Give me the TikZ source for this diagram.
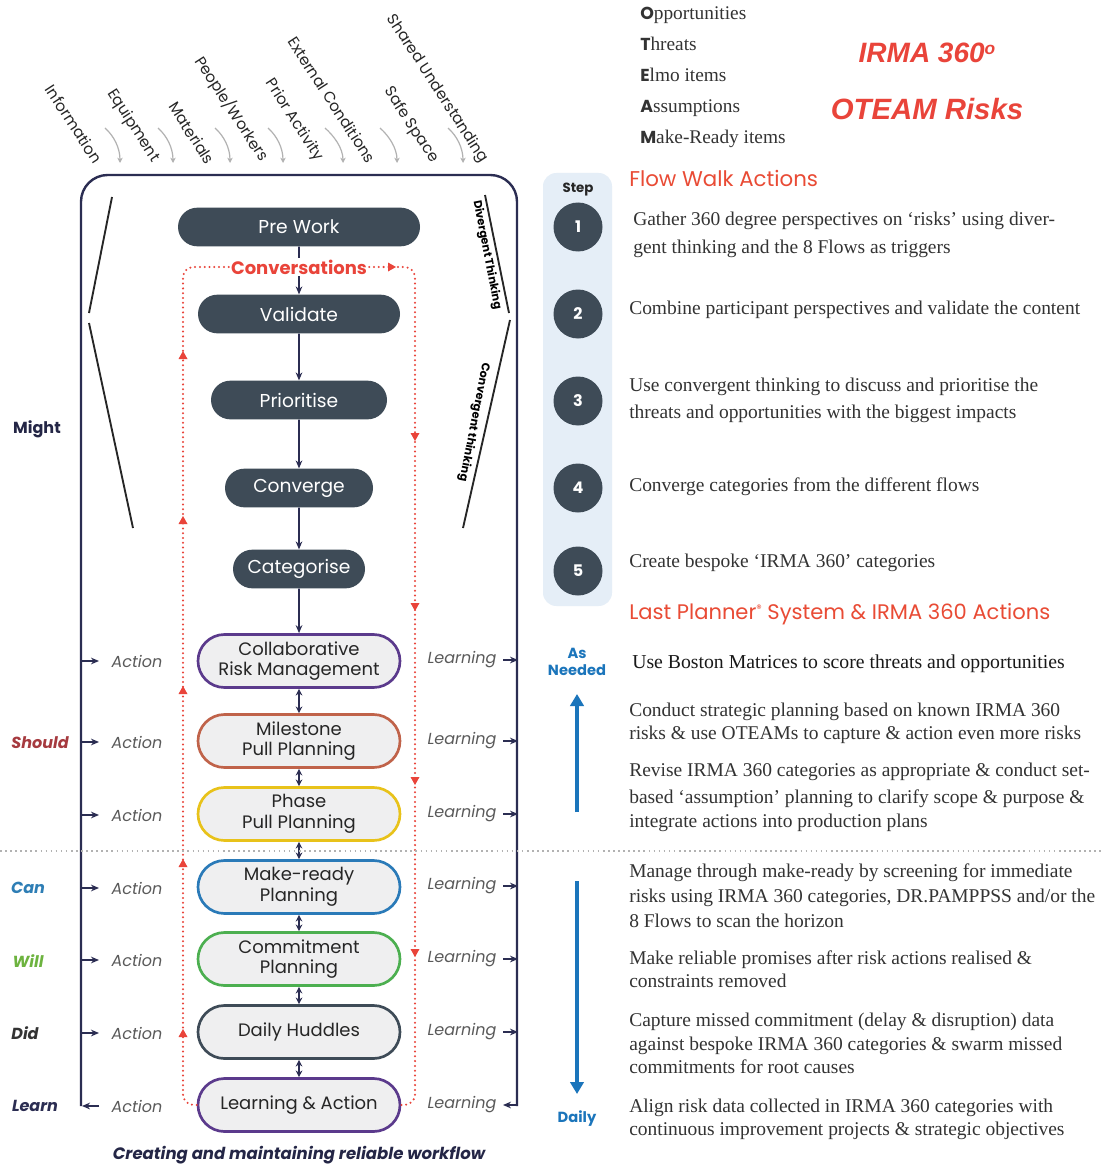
\documentclass[tikz,border=0pt]{standalone}
\usepackage{fontspec}
\setmainfont{Poppins}
\newfontfamily\serif{Liberation Serif}
\newfontfamily\arialf{Liberation Sans}
\usetikzlibrary{shapes.misc,arrows.meta}
\definecolor{navy}{HTML}{2B2D52}
\definecolor{slate}{HTML}{3E4B57}
\definecolor{redc}{HTML}{E9443A}
\definecolor{grayt}{HTML}{5A5A5A}
\definecolor{lightfill}{HTML}{EFEFF0}
\definecolor{purp}{HTML}{5B3A8C}
\definecolor{terra}{HTML}{C0634A}
\definecolor{yel}{HTML}{E8C21A}
\definecolor{bluec}{HTML}{2A7AB8}
\definecolor{greenc}{HTML}{4CAF50}
\definecolor{stepbg}{HTML}{E5EEF7}
\definecolor{arrowblue}{HTML}{1B75BB}
\definecolor{shouldc}{HTML}{A63A3F}
\definecolor{canc}{HTML}{2E7EB5}
\definecolor{willc}{HTML}{6DB33F}
\definecolor{headred}{HTML}{E94B35}
\newcommand{\fsz}[2]{\fontsize{#1}{#2}\selectfont}
\newcommand{\uptri}[2]{\fill[redc] (#1-4.5,#2+4) -- (#1+4.5,#2+4) -- (#1,#2-4) -- cycle;}
\newcommand{\dntri}[2]{\fill[redc] (#1-4.5,#2-4) -- (#1+4.5,#2-4) -- (#1,#2+4) -- cycle;}
\newcommand{\rt}[3]{\node[rtext] at (#1,#2+5) {#3};}
\tikzset{
  darknode/.style={rounded rectangle, fill=slate, text=white, font=\fsz{14}{16}, minimum height=29pt, inner sep=0pt},
  lightnode/.style={rounded rectangle, fill=lightfill, draw=#1, line width=2pt, minimum width=151.5pt, minimum height=39.75pt, inner sep=0pt, align=center, font=\fsz{13.5}{15.5}, text=black!85},
  flowlab/.style={rotate=-57, font=\fsz{11.5}{13}, text=black!85},
  act/.style={font=\itshape\fsz{12}{14}, text=grayt},
  conn/.style={navy, line width=1.3pt, -{Stealth[length=6pt,width=5pt]}},
  dconn/.style={navy, line width=1.3pt, {Stealth[length=5pt,width=5pt]}-{Stealth[length=5pt,width=5pt]}},
  frame/.style={navy, line width=1.8pt},
  diag/.style={black!85, line width=1.4pt},
  redot/.style={redc, line width=1.7pt, dash pattern=on 0pt off 3.6pt, line cap=round},
  grayarr/.style={gray!60, line width=0.9pt, -{Stealth[length=4pt,width=4pt]}},
  rtext/.style={anchor=base west, font=\serif\fsz{14.6}{16}, text=black!80, inner sep=0pt},
  sidelab/.style={font=\bfseries\itshape\fsz{12}{14}},
  stepc/.style={circle, fill=slate, minimum size=36.75pt, inner sep=0pt, text=white, font=\bfseries\fsz{12}{14}}
}
\begin{document}
\begin{tikzpicture}[x=0.75pt,y=-0.75pt]
\useasboundingbox (0,0) rectangle (1101,1166);
\fill[white] (0,0) rectangle (1101,1166);

% flow labels
\node[flowlab] at (74,124) {Information};
\node[flowlab] at (133,126) {Equipment};
\node[flowlab] at (192,133) {Materials};
\node[flowlab] at (232,109) {People/Workers};
\node[flowlab] at (294,120) {Prior Activity};
\node[flowlab] at (332,100) {External Conditions};
\node[flowlab] at (411,125) {Safe Space};
\node[flowlab] at (437,89) {Shared Understanding};
\foreach \sx/\ex in {105/120,158/173,215/230,268/283,325/343,380/397,448/463}{
  \draw[grayarr] (\sx,128) .. controls (\sx+9,136) and (\ex,148) .. (\ex,163);
}

% frame
\draw[frame, rounded corners=20pt] (81,1106) -- (81,175) -- (517,175) -- (517,1106);
\draw[diag] (112,197) -- (89,313);
\draw[diag] (89,323) -- (133,528);
\draw[diag] (485,195) -- (509,313);
\draw[diag] (510,320) -- (463,528);
\node[font=\bfseries\fsz{8.5}{10}, rotate=-79] at (487,255) {Divergent Thinking};
\node[font=\bfseries\fsz{8.5}{10}, rotate=-101] at (474,422) {Convergent thinking};

% nodes
\node[darknode, minimum width=181.5pt] (pre) at (299,227) {Pre Work};
\node[darknode, minimum width=151.5pt] (val) at (299,314) {Validate};
\node[darknode, minimum width=132pt] (pri) at (299,400) {Prioritise};
\node[darknode, minimum width=111pt] (con) at (299,488) {Converge};
\node[darknode, minimum width=99pt] (cat) at (299,569) {Categorise};
\node[lightnode=purp] (crm) at (299,661) {Collaborative\\Risk Management};
\node[lightnode=terra] (mpp) at (299,741) {Milestone\\Pull Planning};
\node[lightnode=yel] (ppp) at (299,814) {Phase\\Pull Planning};
\node[lightnode=bluec] (mrp) at (299,887) {Make-ready\\Planning};
\node[lightnode=greenc] (cp) at (299,959) {Commitment\\Planning};
\node[lightnode=slate] (dh) at (299,1032) {Daily Huddles};
\node[lightnode=purp] (la) at (299,1105) {Learning \& Action};

\draw[conn] (pre) -- (val);
\draw[conn] (val) -- (pri);
\draw[conn] (pri) -- (con);
\draw[conn] (con) -- (cat);
\draw[conn] (cat) -- (crm);
\draw[dconn] (crm) -- (mpp);
\draw[dconn] (mpp) -- (ppp);
\draw[dconn] (ppp) -- (mrp);
\draw[dconn] (mrp) -- (cp);
\draw[dconn] (cp) -- (dh);
\draw[dconn] (dh) -- (la);

\node[fill=white, text=redc, font=\bfseries\fsz{13.5}{15}, inner sep=1.5pt] (conv) at (299,267) {Conversations};
\draw[redot, rounded corners=8pt] (la.west) -| (183,267) -- (conv.west);
\draw[redot, rounded corners=8pt] (conv.east) -- (415,267) |- (la.east);
\fill[redc] (388,262.5) -- (388,271.5) -- (396,267) -- cycle;
\foreach \y in {355,520,690,863,1033}{\uptri{183}{\y}}
\foreach \y in {437,607,781,953}{\dntri{415}{\y}}

% side labels
\node[font=\bfseries\fsz{12}{14}, text=navy!85!black] at (37,429) {Might};
\node[sidelab, text=shouldc] at (40,743) {Should};
\node[sidelab, text=canc] at (28,888) {Can};
\node[sidelab, text=willc] at (28,961) {Will};
\node[sidelab, text=black!80] at (25,1033) {Did};
\node[sidelab, text=navy] at (35,1106) {Learn};

\foreach \y in {661,742,815,888,960,1033}{
  \draw[conn] (81,\y) -- (99,\y);
  \node[act] at (137,\y) {Action};
}
\draw[conn] (99,1106) -- (82,1106);
\node[act] at (137,1106) {Action};
\foreach \y in {660,741,814,886,959,1032}{
  \draw[conn] (503,\y) -- (518,\y);
  \node[act] at (462,\y) {Learning};
}
\draw[conn] (517,1105) -- (503,1105);
\node[act] at (462,1105) {Learning};

\draw[gray!60, line width=1pt, dash pattern=on 1.2pt off 2.6pt] (0,851) -- (1101,851);
\node[font=\bfseries\itshape\fsz{12.4}{14}, text=navy!85!black] at (299,1155) {Creating and maintaining reliable workflow};

% right top
\begin{scope}[every node/.style={anchor=base west, inner sep=0pt, text=black!80}]
\node at (640,20) {{\bfseries\fsz{13}{15}O}{\serif\fsz{14.5}{16}pportunities}};
\node at (640,51) {{\bfseries\fsz{13}{15}T}{\serif\fsz{14.5}{16}hreats}};
\node at (640,82) {{\bfseries\fsz{13}{15}E}{\serif\fsz{14.5}{16}lmo items}};
\node at (640,113) {{\bfseries\fsz{13}{15}A}{\serif\fsz{14.5}{16}ssumptions}};
\node at (640,144) {{\bfseries\fsz{13}{15}M}{\serif\fsz{14.5}{16}ake-Ready items}};
\end{scope}
\node[font=\arialf\bfseries\itshape\fsz{21}{24}, text=redc] at (927,53) {IRMA 360\raisebox{0.55ex}{\fsz{13}{14}o}};
\node[font=\arialf\bfseries\itshape\fsz{22}{25}, text=redc] at (927,109) {OTEAM Risks};

\node[anchor=west, font=\fsz{16}{18}, text=headred, inner sep=0pt] at (629,178) {Flow Walk Actions};
\fill[stepbg, rounded corners=10pt] (543,173) rectangle (612,606);
\node[font=\bfseries\fsz{10}{12}, text=black!85] at (578,190) {Step};
\node[stepc] (s1) at (578,227) {1};
\node[stepc] (s2) at (578,314) {2};
\node[stepc] (s3) at (578,401) {3};
\node[stepc] (s4) at (578,488) {4};
\node[stepc] (s5) at (578,571) {5};

\rt{633}{220}{Gather 360 degree perspectives on ‘risks’ using diver-}
\rt{633}{248}{gent thinking and the 8 Flows as triggers}
\rt{629}{309}{Combine participant perspectives and validate the content}
\rt{629}{386}{Use convergent thinking to discuss and prioritise the}
\rt{629}{413}{threats and opportunities with the biggest impacts}
\rt{629}{486}{Converge categories from the different flows}
\rt{629}{562}{Create bespoke ‘IRMA 360’ categories}

\node[anchor=west, font=\fsz{15.8}{18}, text=headred, inner sep=0pt] at (629,614) {Last Planner\raisebox{0.6ex}{\fsz{8}{9}®} System \& IRMA 360 Actions};

\node[font=\bfseries\fsz{11}{12.5}, text=arrowblue, align=center] at (577,662) {As\\Needed};
\draw[arrowblue, line width=3pt, -{Triangle[length=9pt,width=10pt]}] (577,812) -- (577,694);
\draw[arrowblue, line width=3pt, -{Triangle[length=9pt,width=10pt]}] (577,881) -- (577,1094);
\node[font=\bfseries\fsz{11}{12.5}, text=arrowblue] at (577,1119) {Daily};

\rt{632}{663}{\fsz{14.8}{16}\color{black!90}Use Boston Matrices to score threats and opportunities}
\rt{629}{711}{Conduct strategic planning based on known IRMA 360}
\rt{629}{734}{risks \& use OTEAMs to capture \& action even more risks}
\rt{629}{771}{Revise IRMA 360 categories as appropriate \& conduct set-}
\rt{629}{798}{based ‘assumption’ planning to clarify scope \& purpose \&}
\rt{629}{822}{integrate actions into production plans}
\rt{629}{872}{Manage through make-ready by screening for immediate}
\rt{629}{897}{risks using IRMA 360 categories, DR.PAMPPSS and/or the}
\rt{629}{922}{8 Flows to scan the horizon}
\rt{629}{959}{Make reliable promises after risk actions realised \&}
\rt{629}{982}{constraints removed}
\rt{629}{1021}{Capture missed commitment (delay \& disruption) data}
\rt{629}{1045}{against bespoke IRMA 360 categories \& swarm missed}
\rt{629}{1068}{commitments for root causes}
\rt{629}{1107}{Align risk data collected in IRMA 360 categories with}
\rt{629}{1130}{continuous improvement projects \& strategic objectives}
\end{tikzpicture}
\end{document}
